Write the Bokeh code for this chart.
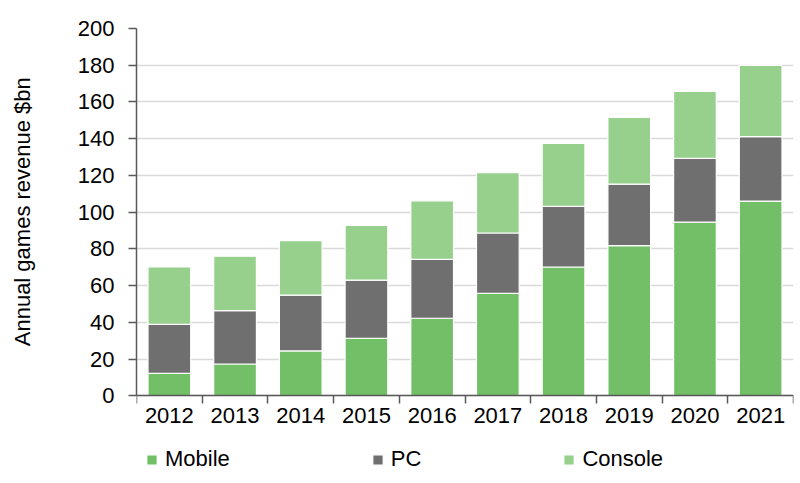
from bokeh.plotting import figure
from bokeh.models import ColumnDataSource, FixedTicker, Legend, LegendItem, Range1d
from bokeh.embed import file_html
from bokeh.resources import INLINE

years = ["2012", "2013", "2014", "2015", "2016", "2017", "2018", "2019", "2020", "2021"]
mobile = [12.3, 17.4, 24.5, 31.4, 42.3, 55.8, 70.2, 81.8, 94.6, 106.1]
pc = [26.7, 29.0, 30.4, 31.7, 32.0, 32.9, 33.0, 33.5, 34.7, 35.1]
console = [31.2, 29.7, 29.6, 29.7, 31.9, 32.8, 34.2, 36.3, 36.4, 38.7]
series = ["Mobile", "PC", "Console"]
colors = ["#72bf67", "#6f6f6f", "#97d08c"]
y_ticks = [0, 20, 40, 60, 80, 100, 120, 140, 160, 180, 200]
y_title = "Annual games revenue $bn"

FONT = "Liberation Sans"
FS = "22px"

xs = [i + 0.5 for i in range(len(years))]
src = ColumnDataSource(data=dict(x=xs, Mobile=mobile, PC=pc, Console=console))

# frame extends below zero so the legend can sit under the category labels
p = figure(frame_width=657, frame_height=452, output_backend="svg", toolbar_location=None,
           x_range=Range1d(0, len(years)), y_range=Range1d(-46, 200),
           min_border_left=136, min_border_right=3, min_border_top=28, min_border_bottom=3)
p.outline_line_color = None

r = p.vbar_stack(series, x="x", width=0.65, color=colors, source=src,
                 line_color="white", line_width=1.2)

p.xaxis.fixed_location = 0
p.xaxis.ticker = FixedTicker(ticks=xs, minor_ticks=list(range(len(years) + 1)))
p.xaxis.major_label_overrides = {x: y for x, y in zip(xs, years)}
p.xaxis.major_tick_line_color = None
p.xaxis.minor_tick_out = 8
p.xaxis.minor_tick_in = 0
p.xaxis.minor_tick_line_color = "#595959"
p.xaxis.minor_tick_line_width = 1.5
p.xaxis.axis_line_color = "#595959"
p.xaxis.axis_line_width = 1.5
p.xaxis.major_label_text_font = FONT
p.xaxis.major_label_text_font_size = FS
p.xaxis.major_label_text_color = "black"
p.xaxis.major_label_standoff = 4

p.yaxis.bounds = (0, 200)
p.yaxis.ticker = FixedTicker(ticks=y_ticks)
p.yaxis.minor_tick_line_color = None
p.yaxis.major_tick_out = 8
p.yaxis.major_tick_in = 0
p.yaxis.major_tick_line_color = "#595959"
p.yaxis.major_tick_line_width = 1.5
p.yaxis.axis_line_color = "#595959"
p.yaxis.axis_line_width = 1.5
p.yaxis.major_label_text_font = FONT
p.yaxis.major_label_text_font_size = FS
p.yaxis.major_label_text_color = "black"
p.yaxis.major_label_standoff = 14
# leading no-break spaces lift the centred label onto the 0-200 span
p.yaxis.axis_label = "\u00a0" * 14 + y_title
p.yaxis.axis_label_text_font = FONT
p.yaxis.axis_label_text_font_size = FS
p.yaxis.axis_label_text_font_style = "normal"
p.yaxis.axis_label_text_color = "black"
p.yaxis.axis_label_standoff = 40

p.xgrid.grid_line_color = None
p.ygrid.grid_line_color = "#d9d9d9"
p.ygrid.grid_line_width = 1.5

legend = Legend(items=[LegendItem(label=s, renderers=[rr]) for s, rr in zip(series, r)],
                orientation="horizontal", location=(9, 8),
                glyph_width=13, glyph_height=13, label_standoff=7, spacing=141,
                padding=0, margin=0, border_line_color=None, background_fill_alpha=0,
                label_text_font=FONT, label_text_font_size=FS, label_text_color="black")
p.add_layout(legend, "center")

open("out.html", "w").write(file_html(p, INLINE))
